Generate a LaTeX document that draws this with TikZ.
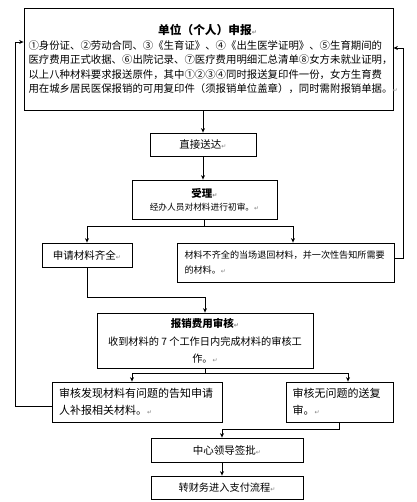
\documentclass[tikz,border=0pt]{standalone}
\usepackage{fontspec}
\setmainfont{Noto Sans CJK SC}
\newfontfamily\symf{DejaVu Sans}
\usetikzlibrary{arrows.meta}
\newcommand\retmk{{\symf\color{gray}\fontsize{6}{6}\selectfont ↵}}
\newcommand\fsz[2]{\fontsize{#1}{#2}\selectfont}
\begin{document}
\begin{tikzpicture}[x=1pt,y=-1pt,
  box/.style={draw, line width=0.8pt, inner sep=0pt},
  arr/.style={draw, line width=0.8pt, -{Stealth[length=4.5pt,width=4pt]}},
  ln/.style={draw, line width=0.8pt}]
\useasboundingbox (0,0) rectangle (416,502);
\fill[white] (0,0) rectangle (416,502);
% boxes
\node[box, minimum width=369pt, minimum height=102pt, text width=360pt, align=left, font=\fsz{10.4}{14.5}] (b1) at (208.5,59)
 {\makebox[358pt]{\fsz{11.7}{14.5}\bfseries 单位（个人）申报\retmk}\\
  ①身份证、②劳动合同、③《生育证》、④《出生医学证明》、⑤生育期间的\\
  医疗费用正式收据、⑥出院记录、⑦医疗费用明细汇总清单⑧女方未就业证明，\\
  以上八种材料要求报送原件，其中①②③④同时报送复印件一份，女方生育费\\
  用在城乡居民医保报销的可用复印件（须报销单位盖章），同时需附报销单据。\retmk};
\node[box, minimum width=106pt, minimum height=23pt, font=\fsz{10.5}{12}] (b2) at (203,144.5) {直接送达\retmk};
\node[box, minimum width=145pt, minimum height=39pt, align=center] (b3) at (204.5,199.5)
 {{\fsz{10.5}{14}\bfseries 受理\retmk}\\[1pt]{\fsz{8.7}{12}经办人员对材料进行初审。\retmk}};
\node[box, minimum width=90pt, minimum height=24pt, font=\fsz{10.5}{12}] (b4) at (87,255) {申请材料齐全\retmk};
\node[box, minimum width=217pt, minimum height=39pt, text width=202pt, align=left, font=\fsz{9.1}{15}] (b5) at (285.5,262.5)
 {材料不齐全的当场退回材料，并一次性告知所需要\\的材料。\retmk};
\node[box, minimum width=216pt, minimum height=55pt, align=center, font=\fsz{10.2}{16.5}] (b6) at (205,340.5)
 {{\fsz{10.5}{16.5}\bfseries 报销费用审核\retmk}\\[2pt]收到材料的 7 个工作日内完成材料的审核工\\作。\retmk};
\node[box, minimum width=170pt, minimum height=40pt, text width=156pt, align=left, font=\fsz{11}{17}] (b7) at (137,402)
 {审核发现材料有问题的告知申请\\人补报相关材料。\retmk};
\node[box, minimum width=107pt, minimum height=40pt, text width=94pt, align=left, font=\fsz{11}{17}] (b8) at (339.5,402)
 {审核无问题的送复\\审。\retmk};
\node[box, minimum width=152pt, minimum height=24pt, font=\fsz{10.5}{12}] (b9) at (227,450) {中心领导签批\retmk};
\node[box, minimum width=152pt, minimum height=23pt, font=\fsz{10.2}{12}] (b10) at (227,487.5) {转财务进入支付流程\retmk};
% connectors
\draw[arr] (b1.south -| b2.north) -- (b2.north);
\draw[arr] (b2.south) -- (b2.south |- b3.north);
\draw[arr] (b3.south) -- ++(0,7) -| (b4.north);
\draw[arr] (b3.south) -- ++(0,7) -| ([xshift=7.5pt]b5.north);
\coordinate (j2) at (205,297);
\draw[arr] (b4.south) |- (j2) -- (b6.north);
\draw[arr] (b6.south) -- ++(0,5) -| ([xshift=-5pt]b7.north);
\draw[arr] (b6.south) -- ++(0,5) -| ([xshift=8.5pt]b8.north);
\draw[arr] ([yshift=-4pt]b7.west) -- ++(-36,0) |- ([yshift=17pt]b1.west);
\draw[arr] ([yshift=4.5pt]b5.east) -- ++(9,0) |- ([yshift=11pt]b1.east);
\draw[arr] (b8.south) -- ++(0,7) -| ([xshift=-5pt]b9.north);
\draw[arr] ([xshift=-5pt]b9.south) -- ([xshift=-5pt]b10.north);
\end{tikzpicture}
\end{document}
